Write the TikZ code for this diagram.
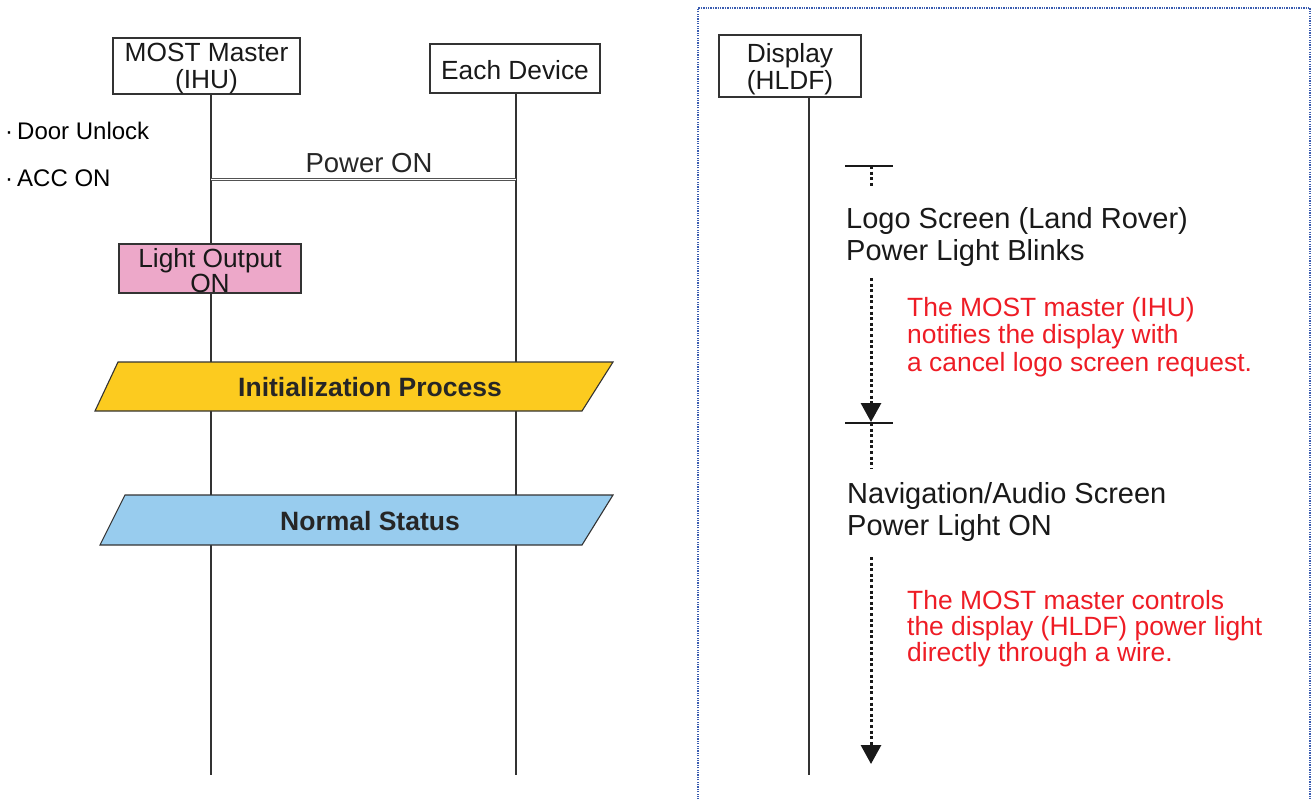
\documentclass[tikz,border=0pt]{standalone}
\usepackage{fontspec}
\setmainfont{Liberation Sans}
\usetikzlibrary{arrows.meta}
\definecolor{lineg}{HTML}{333333}
\definecolor{pinkf}{HTML}{EDA8C9}
\definecolor{yellowf}{HTML}{FCCB1F}
\definecolor{bluef}{HTML}{98CCEE}
\definecolor{redt}{HTML}{EE1C25}
\definecolor{frameb}{HTML}{3A5CB0}
\tikzset{
  hdrbox/.style={draw=lineg, line width=1.1pt, fill=white, inner sep=0pt},
  hdrtxt/.style={align=center, inner sep=0pt, font=\fontsize{26.3}{27}\selectfont, text=black!90},
  lifeline/.style={draw=lineg, line width=1.3pt},
  plainlbl/.style={inner sep=0pt, font=\fontsize{24}{27}\selectfont},
  bandtxt/.style={inner sep=0pt, font=\bfseries\fontsize{26.5}{28}\selectfont, text=black!85},
  blacknote/.style={inner sep=0pt, anchor=west, align=left, font=\fontsize{29}{32}\selectfont, text=black!90},
  rednote/.style={inner sep=0pt, anchor=west, align=left, font=\fontsize{26.4}{27.5}\selectfont, text=redt},
  dotline/.style={line width=3pt, dash pattern=on 3pt off 2.6pt, black!90},
  barline/.style={line width=1.5pt, black!90},
  tipd/.style={-{Triangle[width=20pt,length=19pt]}}
}
\begin{document}
\begin{tikzpicture}[x=1pt,y=-1pt]
\useasboundingbox (0,0) rectangle (1313,798);
% right panel frame
\draw[frameb, line width=1.7pt, dash pattern=on 1.3pt off 1.1pt] (698,802) -- (698,8) -- (1310,8) -- (1310,802);

% header boxes
\node[hdrbox, minimum width=187pt, minimum height=56pt] (mm) at (206.5,66) {};
\node[hdrtxt] (mmt) at (206.5,69) {MOST Master\\(IHU)};
\node[hdrbox, minimum width=170pt, minimum height=49pt] (ed) at (515,68.5) {};
\node[hdrtxt] (edt) at (515,70.5) {Each Device};
\node[hdrbox, minimum width=142pt, minimum height=62pt] (dp) at (790,66) {};
\node[hdrtxt] (dpt) at (790,69.5) {Display\\(HLDF)};

\coordinate (mmend) at (211,775);
\coordinate (edend) at (516,775);
\coordinate (dpend) at (809,775);
\draw[lifeline] (mm.south -| mmend) -- (mmend);
\draw[lifeline] (ed.south -| edend) -- (edend);
\draw[lifeline] (dp.south -| dpend) -- (dpend);

% left labels
\node[plainlbl, anchor=west] (du) at (5,131) {\textperiodcentered\,Door Unlock};
\node[plainlbl, anchor=west] (acc) at (5,178) {\textperiodcentered\,ACC ON};

% power on double line
\coordinate (pm) at (211,179.5);
\coordinate (pe) at (516,179.5);
\draw[draw=lineg!85, line width=0.9pt, double=white, double distance=1.8pt] (pm) -- (pe);
\node[plainlbl, font=\fontsize{27.5}{28}\selectfont, text=black!85] (pon) at (369,163) {Power ON};

% light output
\node[draw=lineg, line width=1.1pt, fill=pinkf, inner sep=0pt,
  minimum width=182pt, minimum height=49pt] (lo) at (210,268.5) {};
\node[align=center, inner sep=0pt, font=\fontsize{26.3}{22}\selectfont, text=black!90] (lot) at (210,271) {Light Output\\ON};

% bands
\filldraw[draw=lineg, line width=1.1pt, fill=yellowf] (118,362) -- (613,362) -- (582,411) -- (95,411) -- cycle;
\node[bandtxt] (init) at (370,387) {Initialization Process};
\filldraw[draw=lineg, line width=1.1pt, fill=bluef] (125,495) -- (613,495) -- (582,545) -- (100,545) -- cycle;
\node[bandtxt] (norm) at (370,521) {Normal Status};

% right side timeline
\coordinate (b1l) at (845,166); \coordinate (b1r) at (893,166);
\coordinate (b1c) at (871,166); \coordinate (b1d) at (871,188);
\draw[barline] (b1l) -- (b1r);
\draw[dotline] (b1c) -- (b1d);

\node[blacknote] (logo) at (846,237) {Logo Screen (Land Rover)\\Power Light Blinks};

\coordinate (a1s) at (871,278); \coordinate (a1e) at (871,422);
\draw[dotline, tipd] (a1s) -- (a1e);
\node[rednote] (r1) at (907,337) {The MOST master (IHU)\\notifies the display with\\a cancel logo screen request.};

\coordinate (b2l) at (845,423); \coordinate (b2r) at (893,423);
\coordinate (b2c) at (871,423); \coordinate (b2d) at (871,468);
\draw[barline] (b2l) -- (b2r);
\draw[dotline] (b2c) -- (b2d);

\node[blacknote] (nav) at (847,512) {Navigation/Audio Screen\\Power Light ON};

\coordinate (a2s) at (871,557); \coordinate (a2e) at (871,764);
\draw[dotline, tipd] (a2s) -- (a2e);
\node[rednote, font=\fontsize{26.4}{26.2}\selectfont] (r2) at (907,628.5) {The MOST master controls\\the display (HLDF) power light\\directly through a wire.};
\end{tikzpicture}
\end{document}
